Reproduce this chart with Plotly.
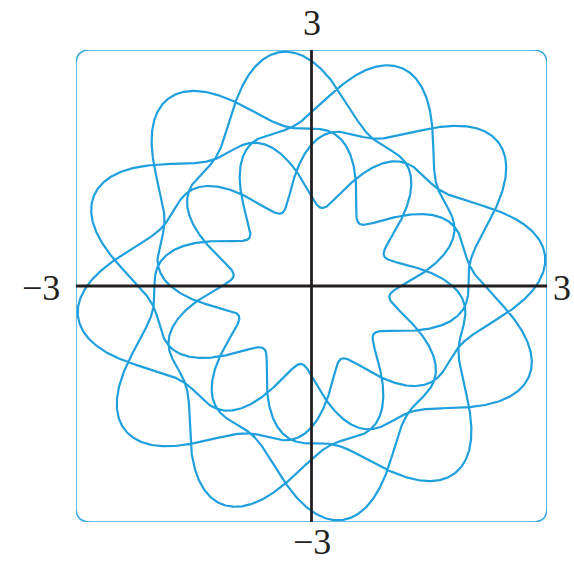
import numpy as np
import plotly.graph_objects as go

# polar curve r = 2 + sin^3(2.4 θ), traced over five full turns
base_radius = 2.0
wave_amplitude = 1.0
wave_frequency = 2.4
wave_power = 3
turns = 5

# viewing window and its end labels
window = [-3, 3]
end_labels = ["3", "\u22123", "\u22123", "3"]   # top, bottom, left, right

theta = np.linspace(0, 2*np.pi*turns, 8000)
r = base_radius + wave_amplitude*np.sin(wave_frequency*theta)**wave_power
x = r*np.cos(theta)
y = r*np.sin(theta)

blue = "#1f9fdc"
ink = "#231f20"

fig = go.Figure()
fig.add_trace(go.Scatter(x=x, y=y, mode="lines", line=dict(color=blue, width=2.2),
                         hoverinfo="skip"))

lo, hi = window
# rounded viewing-window frame
rc = 0.18
path = (f"M {lo+rc},{lo} L {hi-rc},{lo} Q {hi},{lo} {hi},{lo+rc} L {hi},{hi-rc} "
        f"Q {hi},{hi} {hi-rc},{hi} L {lo+rc},{hi} Q {lo},{hi} {lo},{hi-rc} "
        f"L {lo},{lo+rc} Q {lo},{lo} {lo+rc},{lo} Z")
fig.add_shape(type="path", path=path, line=dict(color="#3aa9e0", width=1.6), layer="below")

# coordinate axes through the origin
fig.add_shape(type="line", x0=lo, x1=hi, y0=0, y1=0, line=dict(color=ink, width=2.8), layer="above")
fig.add_shape(type="line", x0=0, x1=0, y0=lo - 0.04, y1=hi, line=dict(color=ink, width=2.8), layer="above")

font = dict(family="Liberation Serif", size=36, color=ink)
top, bottom, left, right = end_labels
fig.add_annotation(text=top, x=0, y=1, xref="x", yref="paper", showarrow=False,
                   xanchor="center", yanchor="top", yshift=49, font=font)
fig.add_annotation(text=bottom, x=0, y=0, xref="x", yref="paper", showarrow=False,
                   xanchor="center", yanchor="bottom", yshift=-42, font=font)
fig.add_annotation(text=left, x=0, y=0, xref="paper", yref="y", showarrow=False,
                   xanchor="right", yanchor="middle", xshift=-14, yshift=-2, font=font)
fig.add_annotation(text=right, x=1, y=0, xref="paper", yref="y", showarrow=False,
                   xanchor="right", yanchor="middle", xshift=26, yshift=-2, font=font)

fig.update_xaxes(range=window, visible=False)
fig.update_yaxes(range=window, visible=False)
fig.update_layout(width=574, height=565, margin=dict(l=76, r=27, t=50, b=43),
                  plot_bgcolor="white", paper_bgcolor="white", showlegend=False)
fig.write_html("out.html")
